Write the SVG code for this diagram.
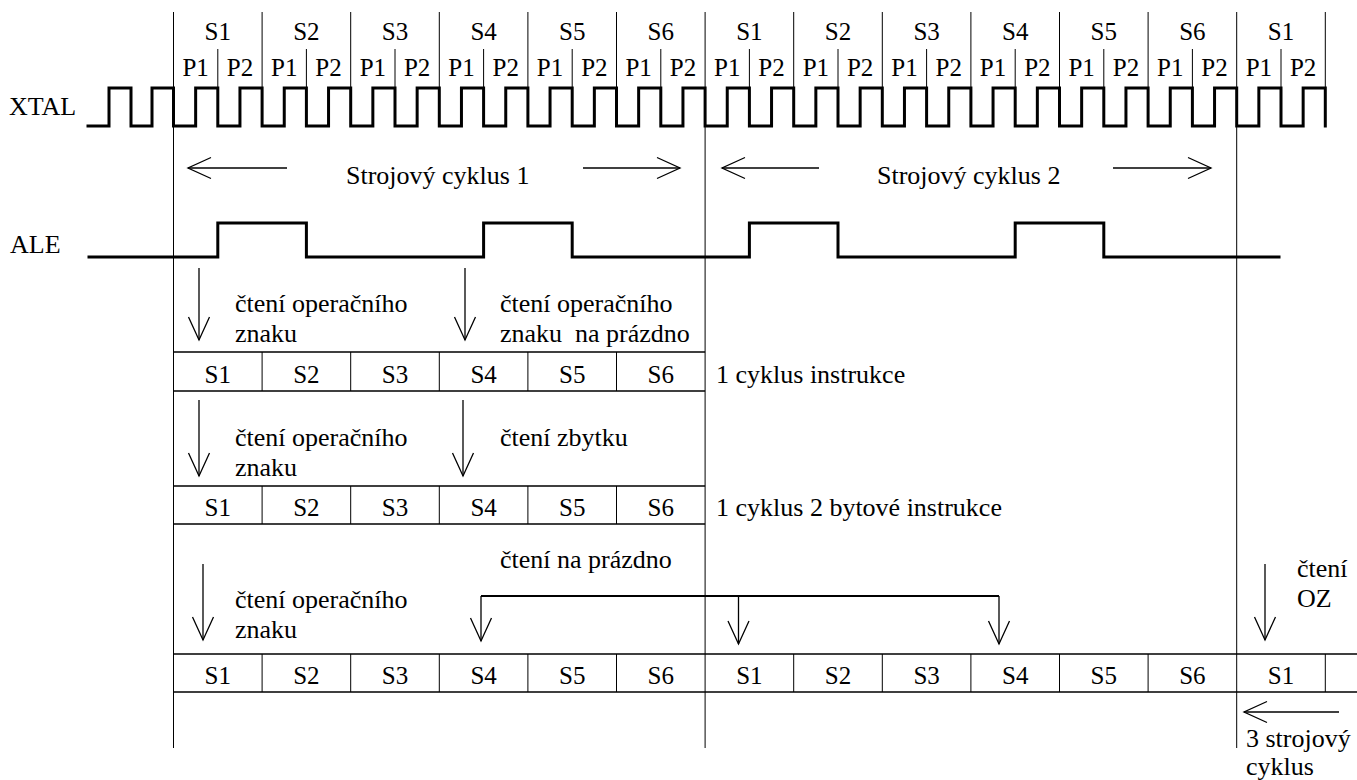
<svg xmlns="http://www.w3.org/2000/svg" width="1357" height="780" viewBox="0 0 1357 780" font-family="'Liberation Serif', 'Times New Roman', serif">
<style>
text{font-family:'Liberation Serif','Times New Roman',serif;fill:#000}
.t{font-size:26px}
.s{font-size:25px;text-anchor:middle}
.c{font-size:25px;text-anchor:middle}
.thin{stroke:#000;stroke-width:1;fill:none}
.tbl{stroke:#000;stroke-width:1.4;fill:none}
.wave{stroke:#000;stroke-width:3;fill:none;stroke-linejoin:miter;stroke-linecap:square}
.arr{stroke:#000;stroke-width:1.3;fill:none;marker-end:url(#ah)}
.br{stroke:#000;stroke-width:2.2;fill:none}
</style>
<defs>
<marker id="ah" viewBox="-25 -12 27 24" refX="0" refY="0" markerWidth="27" markerHeight="24" markerUnits="userSpaceOnUse" orient="auto">
<path d="M-23,-10.5 L0,0 L-23,10.5" fill="none" stroke="#000" stroke-width="1.3"/>
</marker>
</defs>
<rect width="1357" height="780" fill="#fff"/>

<g id="grid">
<path class="thin" d="M173.5,12V748 M705.1,12V748 M1236.7,12V748
M262.1,12V88 M350.7,12V88 M439.3,12V88 M527.9,12V88 M616.5,12V88
M793.7,12V88 M882.3,12V88 M970.9,12V88 M1059.5,12V88 M1148.1,12V88 M1325.3,12V88
M217.8,49V88 M306.4,49V88 M395,49V88 M483.6,49V88 M572.2,49V88 M660.8,49V88
M749.4,49V88 M838,49V88 M926.6,49V88 M1015.2,49V88 M1103.8,49V88 M1192.4,49V88 M1281,49V88"/>
</g>

<g id="state-labels">
<text class="s" x="217.8" y="40">S1</text>
<text class="s" x="306.4" y="40">S2</text>
<text class="s" x="395" y="40">S3</text>
<text class="s" x="483.6" y="40">S4</text>
<text class="s" x="572.2" y="40">S5</text>
<text class="s" x="660.8" y="40">S6</text>
<text class="s" x="749.4" y="40">S1</text>
<text class="s" x="838" y="40">S2</text>
<text class="s" x="926.6" y="40">S3</text>
<text class="s" x="1015.2" y="40">S4</text>
<text class="s" x="1103.8" y="40">S5</text>
<text class="s" x="1192.4" y="40">S6</text>
<text class="s" x="1281" y="40">S1</text>
</g>

<g id="phase-labels">
<text class="s" x="195.65" y="76">P1</text><text class="s" x="239.95" y="76">P2</text>
<text class="s" x="284.25" y="76">P1</text><text class="s" x="328.55" y="76">P2</text>
<text class="s" x="372.85" y="76">P1</text><text class="s" x="417.15" y="76">P2</text>
<text class="s" x="461.45" y="76">P1</text><text class="s" x="505.75" y="76">P2</text>
<text class="s" x="550.05" y="76">P1</text><text class="s" x="594.35" y="76">P2</text>
<text class="s" x="638.65" y="76">P1</text><text class="s" x="682.95" y="76">P2</text>
<text class="s" x="727.25" y="76">P1</text><text class="s" x="771.55" y="76">P2</text>
<text class="s" x="815.85" y="76">P1</text><text class="s" x="860.15" y="76">P2</text>
<text class="s" x="904.45" y="76">P1</text><text class="s" x="948.75" y="76">P2</text>
<text class="s" x="993.05" y="76">P1</text><text class="s" x="1037.35" y="76">P2</text>
<text class="s" x="1081.65" y="76">P1</text><text class="s" x="1125.95" y="76">P2</text>
<text class="s" x="1170.25" y="76">P1</text><text class="s" x="1214.55" y="76">P2</text>
<text class="s" x="1258.85" y="76">P1</text><text class="s" x="1303.15" y="76">P2</text>
</g>

<g id="xtal">
<text class="t" x="9" y="115">XTAL</text>
<path class="wave" d="M88,126 H109V88H131V126 H152V88H173.5V126 H195.65V88H217.8V126 H239.95V88H262.1V126 H284.25V88H306.4V126 H328.55V88H350.7V126 H372.85V88H395V126 H417.15V88H439.3V126 H461.45V88H483.6V126 H505.75V88H527.9V126 H550.05V88H572.2V126 H594.35V88H616.5V126 H638.65V88H660.8V126 H682.95V88H705.1V126 H727.25V88H749.4V126 H771.55V88H793.7V126 H815.85V88H838V126 H860.15V88H882.3V126 H904.45V88H926.6V126 H948.75V88H970.9V126 H993.05V88H1015.2V126 H1037.35V88H1059.5V126 H1081.65V88H1103.8V126 H1125.95V88H1148.1V126 H1170.25V88H1192.4V126 H1214.55V88H1236.7V126 H1258.85V88H1281V126 H1303.15V88H1325.3V126"/>
</g>

<g id="cycle1">
<text class="t" x="346" y="184">Strojový cyklus 1</text>
</g>
<g id="cycle2">
<text class="t" x="877" y="184">Strojový cyklus 2</text>
</g>

<g id="ale">
<text class="t" x="10" y="253">ALE</text>
<path class="wave" d="M89,257 H217.8V223H306.4V257H483.6V223H572.2V257H749.4V223H838V257H1015.2V223H1103.8V257H1279"/>
</g>

<g id="row1">
<text class="t" x="235" y="312">čtení operačního</text>
<text class="t" x="235" y="342">znaku</text>
<text class="t" x="500" y="312">čtení operačního</text>
<text class="t" x="500" y="342" xml:space="preserve">znaku  na prázdno</text>
<path class="tbl" d="M173.5,352H705.1 M173.5,391H705.1"/>
<path class="thin" d="M262.1,352V391 M350.7,352V391 M439.3,352V391 M527.9,352V391 M616.5,352V391"/>
<text class="c" x="217.8" y="383">S1</text><text class="c" x="306.4" y="383">S2</text><text class="c" x="395" y="383">S3</text>
<text class="c" x="483.6" y="383">S4</text><text class="c" x="572.2" y="383">S5</text><text class="c" x="660.8" y="383">S6</text>
<text class="t" x="716" y="383">1 cyklus instrukce</text>
</g>

<g id="row2">
<text class="t" x="235" y="446">čtení operačního</text>
<text class="t" x="235" y="476">znaku</text>
<text class="t" x="500" y="446">čtení zbytku</text>
<path class="tbl" d="M173.5,486H705.1 M173.5,524H705.1"/>
<path class="thin" d="M262.1,486V524 M350.7,486V524 M439.3,486V524 M527.9,486V524 M616.5,486V524"/>
<text class="c" x="217.8" y="516">S1</text><text class="c" x="306.4" y="516">S2</text><text class="c" x="395" y="516">S3</text>
<text class="c" x="483.6" y="516">S4</text><text class="c" x="572.2" y="516">S5</text><text class="c" x="660.8" y="516">S6</text>
<text class="t" x="716" y="516">1 cyklus 2 bytové instrukce</text>
</g>

<g id="row3">
<text class="t" x="235" y="608">čtení operačního</text>
<text class="t" x="235" y="638">znaku</text>
<text class="t" x="500" y="568">čtení na prázdno</text>
<text class="t" x="1297" y="577">čtení</text>
<text class="t" x="1297" y="607">OZ</text>
<path class="tbl" d="M173.5,654H1357 M173.5,692H1357"/>
<path class="thin" d="M262.1,654V692 M350.7,654V692 M439.3,654V692 M527.9,654V692 M616.5,654V692 M793.7,654V692 M882.3,654V692 M970.9,654V692 M1059.5,654V692 M1148.1,654V692 M1325.3,654V692"/>
<text class="c" x="217.8" y="684">S1</text><text class="c" x="306.4" y="684">S2</text><text class="c" x="395" y="684">S3</text>
<text class="c" x="483.6" y="684">S4</text><text class="c" x="572.2" y="684">S5</text><text class="c" x="660.8" y="684">S6</text>
<text class="c" x="749.4" y="684">S1</text><text class="c" x="838" y="684">S2</text><text class="c" x="926.6" y="684">S3</text>
<text class="c" x="1015.2" y="684">S4</text><text class="c" x="1103.8" y="684">S5</text><text class="c" x="1192.4" y="684">S6</text>
<text class="c" x="1281" y="684">S1</text>
<text class="t" x="1246" y="747">3 strojový</text>
<text class="t" x="1246" y="775">cyklus</text>
</g>

<g id="connectors">
<path class="arr" d="M287,168H188"/>
<path class="arr" d="M583,168H680"/>
<path class="arr" d="M819,168H722"/>
<path class="arr" d="M1113,168H1211"/>
<path class="arr" d="M199,268V340"/>
<path class="arr" d="M465,268V340"/>
<path class="arr" d="M199,400V476"/>
<path class="arr" d="M463,400V476"/>
<path class="arr" d="M203,564V640"/>
<path class="br" d="M481,596H999"/>
<path class="arr" d="M481,596V641"/>
<path class="arr" d="M738.5,596V644"/>
<path class="arr" d="M999,596V644"/>
<path class="arr" d="M1265,564V640"/>
<path class="arr" d="M1339,712H1244"/>
</g>
</svg>
